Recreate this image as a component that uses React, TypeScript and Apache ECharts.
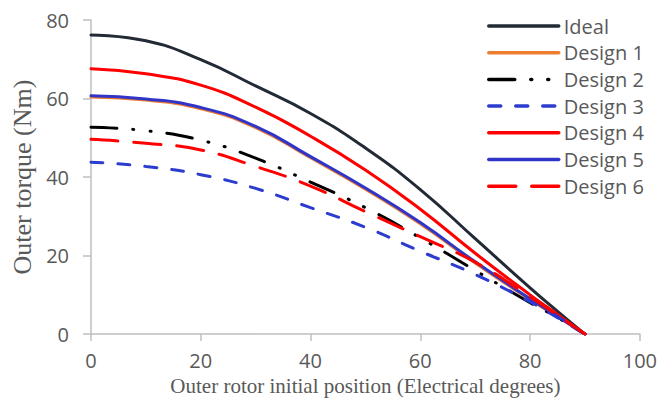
import React, { useEffect, useRef } from "react";
import * as echarts from "echarts";

const positions = [0, 10, 20, 30, 40, 50, 60, 70, 80, 85, 90];
const ideal = [76.2, 74.7, 69.9, 63.2, 56.2, 47.4, 36.8, 24.3, 11.8, 5.8, 0];
const design1 = [60.4, 59.6, 57.4, 52.6, 44.9, 36.9, 28.1, 18.1, 8.8, 4.4, 0];
const design2 = [52.7, 51.8, 49.4, 44.8, 38.7, 32.2, 24.5, 16.2, 8.0, 4.2, 0];
const design3 = [43.8, 42.7, 40.6, 37.1, 32.2, 27.2, 21.1, 15.2, 8.2, 4.2, 0];
const design4 = [67.6, 66.3, 63.4, 57.8, 50.4, 41.8, 31.8, 20.6, 10.0, 5.0, 0];
const design5 = [60.7, 59.9, 57.7, 52.9, 45.2, 37.2, 28.4, 18.4, 9.0, 4.5, 0];
const design6 = [49.6, 48.6, 46.9, 42.7, 37.7, 31.2, 24.8, 18.3, 9.5, 4.8, 0];

const xTicks = { min: 0, max: 100, interval: 20 };
const yTicks = { min: 0, max: 80, interval: 20 };

const seriesDefs = [
  { name: "Ideal", values: ideal, color: "#222A35", type: "solid" as any },
  { name: "Design 1", values: design1, color: "#ED7D31", type: "solid" as any },
  { name: "Design 2", values: design2, color: "#000000", type: [26, 16, 1, 16, 1, 16] as any },
  { name: "Design 3", values: design3, color: "#2B3CCE", type: [12, 15] as any },
  { name: "Design 4", values: design4, color: "#FF0000", type: "solid" as any },
  { name: "Design 5", values: design5, color: "#3035C8", type: "solid" as any },
  { name: "Design 6", values: design6, color: "#FF0000", type: [27, 16] as any },
];

const labelFont = "'Open Sans', 'Liberation Sans', sans-serif";
const titleFont = "'Liberation Serif', 'DejaVu Serif', serif";
const gray = "#595959";
const axisGray = "#BFBFBF";

export default function App() {
  const ref = useRef<HTMLDivElement>(null);
  useEffect(() => {
    document.body.style.margin = "0";
    const chart = echarts.init(ref.current as HTMLDivElement, null, { renderer: "svg" });
    const option: any = {
      animation: false,
      backgroundColor: "#ffffff",
      grid: { left: 91, right: 20, top: 20, bottom: 63, containLabel: false },
      legend: {
        orient: "vertical",
        left: 487,
        top: 16,
        padding: 0,
        itemWidth: 70,
        itemHeight: 14,
        itemGap: 6.7,
        itemStyle: { opacity: 0 },
        lineStyle: { width: 3.5, cap: "round" },
        textStyle: { color: gray, fontSize: 20, fontFamily: labelFont, lineHeight: 20 },
        data: seriesDefs.map((s) => s.name),
      },
      xAxis: {
        type: "value",
        ...xTicks,
        name: "Outer rotor initial position (Electrical degrees)",
        nameLocation: "middle",
        nameGap: 38,
        nameTextStyle: { color: gray, fontSize: 21, fontFamily: titleFont },
        axisLine: { show: true, onZero: false, lineStyle: { color: axisGray, width: 1.5 } },
        axisTick: { show: true, length: 7, lineStyle: { color: axisGray, width: 1.5 } },
        axisLabel: { color: gray, fontSize: 20, fontFamily: labelFont, margin: 16 },
        splitLine: { show: false },
      },
      yAxis: {
        type: "value",
        ...yTicks,
        name: "Outer torque (Nm)",
        nameLocation: "middle",
        nameGap: 56,
        nameTextStyle: { color: gray, fontSize: 26, fontFamily: titleFont },
        axisLine: { show: true, lineStyle: { color: axisGray, width: 1.5 } },
        axisTick: { show: true, length: 8, lineStyle: { color: axisGray, width: 1.5 } },
        axisLabel: { color: gray, fontSize: 20, fontFamily: labelFont, margin: 22 },
        splitLine: { show: false },
      },
      series: seriesDefs.map((s) => ({
        name: s.name,
        type: "line",
        data: positions.map((x, i) => [x, s.values[i]]),
        symbol: "none",
        smooth: 0.5,
        color: s.color,
        lineStyle: { color: s.color, width: 3, type: s.type, cap: "round" },
      })),
    };
    chart.setOption(option);
    return () => chart.dispose();
  }, []);
  return <div ref={ref} style={{ width: 660, height: 401 }} />;
}
